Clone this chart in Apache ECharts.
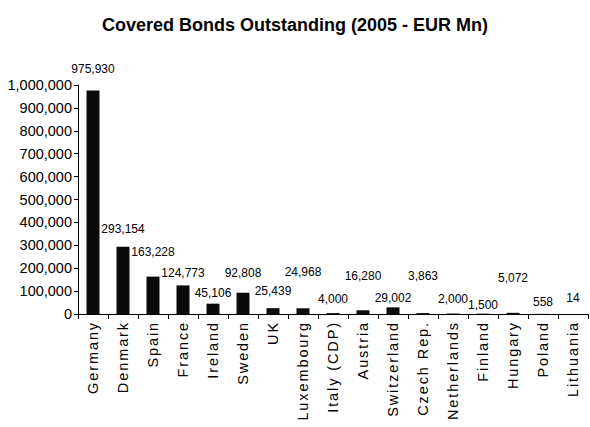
<!DOCTYPE html>
<html>
<head>
<meta charset="utf-8">
<script src="https://cdn.jsdelivr.net/npm/echarts@6/dist/echarts.min.js"></script>
<style>
html,body{margin:0;padding:0;background:#fff;}
#chart{width:590px;height:427px;}
</style>
</head>
<body>
<div id="chart"></div>
<script>
// Data
var countries = ["Germany","Denmark","Spain","France","Ireland","Sweden","UK","Luxembourg","Italy (CDP)","Austria","Switzerland","Czech Rep.","Netherlands","Finland","Hungary","Poland","Lithuania"];
var outstanding = [975930,293154,163228,124773,45106,92808,25439,24968,4000,16280,29002,3863,2000,1500,5072,558,14];
var yTicks = [0,100000,200000,300000,400000,500000,600000,700000,800000,900000,1000000];
var titleText = "Covered Bonds Outstanding (2005 - EUR Mn)";

// Layout (label lift above bar top, px) - styling only
var labelLift = [16,12,19,6,5,14,11,30,8,28,3,31,9,3,29,6,10];

var FONT = "'Liberation Sans', Arial, Helvetica, sans-serif";
var chart = echarts.init(document.getElementById('chart'), null, {renderer:'svg'});

var items = outstanding.map(function(v,i){
  return {value:v, label:{distance:labelLift[i]}};
});

chart.setOption({
  animation:false,
  backgroundColor:'#fff',
  title:{
    text:titleText, left:'center', top:11,
    textStyle:{fontFamily:FONT, fontSize:18, fontWeight:'bold', color:'#000'}
  },
  grid:{left:78, right:2, top:85, bottom:113, containLabel:false},
  xAxis:{
    type:'category', data:countries,
    axisLine:{lineStyle:{color:'#000', width:1}},
    axisTick:{show:true, alignWithLabel:false, length:5, lineStyle:{color:'#000'}},
    axisLabel:{rotate:90, margin:7, interval:0, fontFamily:FONT, fontSize:14.5, color:'#000'}
  },
  yAxis:{
    type:'value', min:yTicks[0], max:yTicks[yTicks.length-1], interval:yTicks[1]-yTicks[0],
    splitLine:{show:false},
    axisLine:{show:true, lineStyle:{color:'#000', width:1}},
    axisTick:{show:true, length:4, lineStyle:{color:'#000'}},
    axisLabel:{margin:6, fontFamily:FONT, fontSize:14.5, color:'#000',
      formatter:function(v){return v.toLocaleString('en-US');}}
  },
  series:[{
    type:'bar', data:items, barWidth:13,
    itemStyle:{color:'#0a0a0a'},
    label:{show:true, position:'top', fontFamily:FONT, fontSize:12, color:'#000',
      formatter:function(p){return p.value.toLocaleString('en-US');}}
  }]
});

// letter-spaced category labels, as in the reference
function spaceLabels(){
  var texts = document.querySelectorAll('#chart svg text');
  for (var i=0;i<texts.length;i++){
    var t = texts[i];
    if (countries.indexOf(t.textContent) >= 0){
      t.setAttribute('letter-spacing','1.9');
    }
  }
}
spaceLabels();
chart.on('finished', spaceLabels);
</script>
</body>
</html>
